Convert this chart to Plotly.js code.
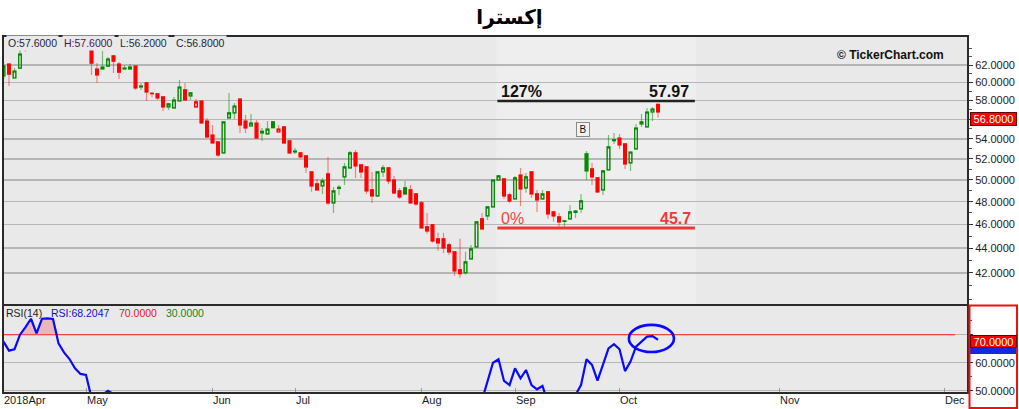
<!DOCTYPE html>
<html><head><meta charset="utf-8">
<script src="https://cdn.plot.ly/plotly-3.0.1.min.js"></script>
<style>html,body{margin:0;padding:0;background:#fff;}#chart{width:1019px;height:409px;}</style>
</head><body><div id="chart"></div>
<script>
// trading-day index (0 = 1 May 2018)
const candleIdx = [-15,-14,-13,-12,-11,-10,-9,-8,-7,-6,-5,-4,-3,-2,-1,0,
 1,2,3,4,5,6,7,8,9,10,11,12,13,14,15,16,17,18,19,20,21,22,23,24,25,26,27,28,29,30,
 31,32,33,34,35,36,37,38,39,40,41,42,43,44,45,46,47,48,49,50,51,52,53,54,55,56,57,58,59,60,
 61,62,63,64,65,66,67,68,69,70,71,72,73,74,75,76,77,78,79,80,81,82,83,84,85,86,87,88,89,90,
 91,92,93,94,95,96,97,98,99,100,101,102,103,104];
const opens = [60.74,62.12,60.51,61.65,65.50,66.00,67.20,66.60,68.20,69.20,69.40,67.60,66.60,66.10,65.70,65.90,
 63.77,61.54,61.54,61.88,63.06,62.12,61.54,61.54,61.88,59.50,59.95,58.80,58.73,58.40,57.32,57.21,57.96,59.17,58.51,57.32,57.96,55.83,54.38,53.68,52.59,56.15,56.68,58.18,55.83,55.31,
 55.62,54.60,54.49,55.73,54.69,55.21,53.78,52.70,52.59,52.29,50.75,49.62,49.44,50.56,47.89,49.20,50.28,51.13,52.59,51.42,51.23,49.07,48.52,50.75,51.13,49.99,48.98,49.25,49.07,48.70,
 47.89,45.79,45.96,44.78,44.78,44.27,43.70,42.25,42.02,43.13,44.11,46.48,46.74,47.53,49.99,50.09,48.61,48.25,50.46,49.25,50.75,48.70,48.25,48.89,47.09,46.65,46.25,46.48,47.05,47.35,
 52.49,51.04,50.18,49.07,50.94,53.80,54.08,53.48,51.61,52.98,55.52,55.21,56.78,57.60];
const highs = [62.35,62.12,61.65,63.77,66.60,68.00,67.60,68.60,69.60,70.20,69.80,68.00,67.00,66.40,66.20,66.40,
 63.77,62.23,63.65,62.94,63.06,62.35,62.00,62.12,61.88,59.95,59.95,58.95,58.84,58.40,57.75,58.40,60.28,59.95,58.84,58.18,57.96,56.15,55.41,53.68,55.73,58.84,57.75,58.18,56.46,56.57,
 55.93,55.10,55.83,55.83,55.41,55.21,53.78,53.08,52.68,52.29,50.75,50.09,50.18,52.19,49.34,49.53,51.61,52.78,52.88,51.42,51.23,50.75,50.75,51.42,51.13,50.37,49.25,49.90,49.53,48.70,
 48.07,47.00,45.96,45.28,45.28,44.44,43.70,44.78,43.70,44.27,46.22,47.00,47.53,49.99,50.37,50.09,48.80,50.37,51.13,50.66,50.75,49.07,49.07,48.89,47.09,47.00,46.39,47.71,47.26,48.70,
 52.78,51.61,50.18,50.85,54.38,54.59,54.49,53.48,52.68,55.52,56.57,57.21,57.32,57.60];
const lows = [60.28,59.61,60.51,61.65,63.60,65.60,65.80,66.20,67.80,68.40,67.20,66.20,65.80,65.50,65.50,65.60,
 60.85,59.95,61.54,61.77,61.08,60.40,61.54,61.54,59.17,59.17,57.96,58.40,58.07,56.89,56.99,57.21,57.96,58.07,58.07,57.32,55.62,54.08,53.58,52.19,52.59,56.15,56.04,54.59,54.59,55.31,
 54.08,53.78,54.38,55.10,54.69,53.58,52.49,52.49,52.09,50.66,48.89,49.07,48.70,47.71,47.00,48.61,49.53,51.13,50.18,50.18,48.70,47.89,48.43,50.28,49.62,48.70,48.25,48.70,47.89,47.62,
 45.71,45.20,44.44,43.78,43.61,43.45,41.78,41.63,41.86,43.13,44.11,45.62,46.39,47.53,49.99,48.25,47.89,48.25,47.62,48.80,48.34,47.09,48.25,46.48,46.22,45.79,45.79,46.48,46.56,47.00,
 49.99,49.53,48.80,48.61,50.94,53.48,52.98,51.04,50.85,52.98,55.21,55.21,55.83,56.20];
const closes = [61.88,60.96,61.31,63.29,66.20,67.40,66.40,68.20,69.20,69.60,67.60,66.60,66.10,65.70,65.90,65.80,
 62.23,60.85,61.77,62.70,62.46,61.19,61.65,61.77,59.39,59.60,58.95,58.75,58.29,57.32,57.64,58.07,59.50,58.07,58.84,57.86,55.62,54.18,53.58,52.39,55.73,56.68,57.42,55.41,55.10,55.62,
 54.08,54.75,55.00,55.15,55.00,53.58,52.59,52.78,52.19,51.23,49.44,49.07,49.90,47.89,48.98,49.30,51.23,52.59,51.32,50.75,48.98,48.52,50.75,51.13,49.90,48.80,48.43,48.70,47.89,47.80,
 45.71,45.45,44.61,44.44,44.02,43.70,42.17,41.94,42.89,43.94,46.22,45.62,47.53,49.99,50.37,48.52,48.07,50.18,49.16,50.28,48.70,48.16,48.70,46.91,46.74,46.22,46.30,47.09,47.15,48.07,
 50.85,50.28,48.89,50.85,53.18,53.90,53.38,51.52,52.68,55.10,55.73,56.78,57.10,56.80];
const rsiIdx = candleIdx;
const rsi = [67.5,64.3,64.8,70.0,72.7,75.7,70.5,75.7,75.8,75.6,66.9,63.7,61.3,58.0,56.0,55.6,
 47.5,45.5,48.6,50.0,48.8,46.5,47.2,47.6,42.0,42.5,40.5,40.0,39.2,37.5,38.5,40.0,43.5,41.5,42.5,41.5,37.5,35.0,34.0,32.5,39.0,40.5,42.0,37.5,36.5,37.5,
 35.0,36.0,37.0,37.2,37.0,34.5,32.5,33.0,32.5,31.0,29.0,28.5,30.5,27.0,30.0,31.0,35.5,39.5,37.5,36.0,32.5,31.5,36.5,37.5,35.5,33.5,32.5,33.5,31.5,30.5,
 27.5,27.0,25.5,25.0,24.5,24.0,22.0,21.5,26.0,30.5,40.0,46.5,53.5,60.0,61.2,53.5,52.0,58.0,54.4,57.4,52.0,50.5,51.7,45.5,44.5,43.5,44.0,46.0,48.5,52.0,
 61.2,59.2,53.6,59.2,65.1,66.6,64.8,57.0,60.4,65.7,67.5,69.3,69.5,68.2047];
const RSI_OB = 70, RSI_OS = 30;
const fibHigh = 57.97, fibLow = 45.7;
const fibHighLabel = '127%', fibLowLabel = '0%';
const monthTickIdx = [0, 23, 38, 61, 78, 97, 126, 156];
const monthTickText = ['May','Jun','Jul','Aug','Sep','Oct','Nov','Dec'];
const firstMonthLabel = '2018Apr';
const priceTicks = [42,44,46,48,50,52,54,56,58,60,62];
const priceMinorTicks = [40,41,43,45,47,49,51,53,55,57,59,61,63,64];
const rsiTicks = [50,60,70];
const rsiMinorTicks = [55,65,75];
const markerB = {idx: 90.45, price: 54.9, text: 'B'};

// ---- layout geometry (pixels of the 1019x409 canvas)
const L = 3, R = 968, T = 37, B = 393;
const PX = x => (x - L) / (R - L);
const PY = y => (B - y) / (B - T);
const X_RANGE = [-15.09, 160.36];
const PRICE_RANGE = [Math.log10(39.63), Math.log10(65.34)];
const RSI_RANGE = [49.18, 80.25];
const FIB_X0 = 74.8, FIB_X1 = 110.7;
const PLOT_BG = '#e9e9e9';

const n = candleIdx.length;
const last = n - 1;
const green = [], hollow = [];
for (let i = 0; i < n; i++) {
  const prev = i > 0 ? closes[i-1] : opens[i];
  green.push(closes[i] >= prev);
  hollow.push(closes[i] > opens[i]);
}
const GREEN = '#008a00', RED = '#ff0000';
const GREEN_L = 'rgba(0,140,0,0.5)', RED_L = 'rgba(255,0,0,0.45)';
const NONE = 'rgba(0,0,0,0)';

function candleTrace(sel, lineColor, fill, bodyOnly) {
  const o = sel.map(i => opens[i]), c = sel.map(i => closes[i]);
  const h = bodyOnly ? sel.map(i => Math.max(opens[i], closes[i])) : sel.map(i => highs[i]);
  const l = bodyOnly ? sel.map(i => Math.min(opens[i], closes[i])) : sel.map(i => lows[i]);
  const style = {line: {color: lineColor, width: 1.2}, fillcolor: fill};
  return {type: 'candlestick', x: sel.map(i => candleIdx[i]), open: o, high: h, low: l, close: c,
    xaxis: 'x', yaxis: 'y', increasing: style, decreasing: style, whiskerwidth: 0,
    hoverinfo: 'skip', showlegend: false};
}
const all = candleIdx.map((_, i) => i);
const traces = [];
traces.push(candleTrace(all.filter(i => green[i]), GREEN_L, NONE, false));
traces.push(candleTrace(all.filter(i => !green[i]), RED_L, NONE, false));
traces.push(candleTrace(all.filter(i => green[i] && hollow[i]), GREEN, NONE, true));
traces.push(candleTrace(all.filter(i => green[i] && !hollow[i]), GREEN, GREEN, true));
traces.push(candleTrace(all.filter(i => !green[i] && hollow[i]), RED, NONE, true));
traces.push(candleTrace(all.filter(i => !green[i] && !hollow[i]), RED, RED, true));

// fibonacci lines
traces.push({type:'scatter', mode:'lines', x:[FIB_X0, FIB_X1], y:[fibHigh, fibHigh], xaxis:'x', yaxis:'y',
  line:{color:'#222', width:2.5}, hoverinfo:'skip', showlegend:false});
traces.push({type:'scatter', mode:'lines', x:[FIB_X0, FIB_X1], y:[fibLow, fibLow], xaxis:'x', yaxis:'y',
  line:{color:'#f03434', width:3}, hoverinfo:'skip', showlegend:false});

// RSI panel
traces.push({type:'scatter', mode:'lines', x:[X_RANGE[0], 158], y:[RSI_OB, RSI_OB], xaxis:'x', yaxis:'y2',
  line:{color:'#f04040', width:1.2}, hoverinfo:'skip', showlegend:false});
traces.push({type:'scatter', mode:'lines', x:rsiIdx, y:rsi.map(() => RSI_OB), xaxis:'x', yaxis:'y2',
  line:{width:0, color:NONE}, hoverinfo:'skip', showlegend:false});
traces.push({type:'scatter', mode:'lines', x:rsiIdx, y:rsi.map(v => Math.max(v, RSI_OB)), xaxis:'x', yaxis:'y2',
  fill:'tonexty', fillcolor:'rgba(230,110,110,0.4)', line:{width:0, color:NONE}, hoverinfo:'skip', showlegend:false});
traces.push({type:'scatter', mode:'lines', x:rsiIdx, y:rsi, xaxis:'x', yaxis:'y2',
  line:{color:'#0a0aff', width:2.2}, hoverinfo:'skip', showlegend:false});

const tickFont = {family:'Liberation Sans, Arial, sans-serif', size:11, color:'#1c1c1c'};
const small = (c) => ({family:'Liberation Sans, Arial, sans-serif', size:10.5, color:c});

const annotations = [];
// OHLC header
[['O:', opens[last], 7, '#1e1e3c'], ['H:', highs[last], 63, '#4a1450'], ['L:', lows[last], 119, '#1e2a48'], ['C:', closes[last], 175, '#1e1e30']]
  .forEach(([k, v, x, c]) => annotations.push({xref:'paper', yref:'paper', x:PX(x - 1), y:PY(43), xanchor:'left', yanchor:'middle',
    text:k + v.toFixed(4), showarrow:false, font:small(c), bgcolor:PLOT_BG, borderpad:1}));
// RSI legend
[['RSI(14)', 6, '#222'], ['RSI:' + rsi[last].toFixed(4), 51, '#1010d0'], [RSI_OB.toFixed(4), 119, '#e02020'], [RSI_OS.toFixed(4), 166, '#208020']]
  .forEach(([t, x, c]) => annotations.push({xref:'paper', yref:'paper', x:PX(x - 1), y:PY(312.5), xanchor:'left', yanchor:'middle',
    text:t, showarrow:false, font:small(c), borderpad:0}));
// copyright
annotations.push({xref:'paper', yref:'paper', x:PX(835), y:PY(55), xanchor:'left', yanchor:'middle', showarrow:false,
  text:'© TickerChart.com', font:{family:'Liberation Sans, Arial, sans-serif', size:12, color:'#111', weight:'bold'}});
// fib labels
const fibFont = (c, w) => ({family:'Liberation Sans, Arial, sans-serif', size:16, color:c, weight:w});
annotations.push({xref:'x', yref:'y', x:75.3, y:Math.log10(fibHigh), xanchor:'left', yanchor:'bottom', showarrow:false, borderpad:0,
  text:fibHighLabel, font:fibFont('#111', 'bold')});
annotations.push({xref:'x', yref:'y', x:109.8, y:Math.log10(fibHigh), xanchor:'right', yanchor:'bottom', showarrow:false, borderpad:0,
  text:fibHigh.toFixed(2), font:fibFont('#111', 'bold')});
annotations.push({xref:'x', yref:'y', x:75.3, y:Math.log10(fibLow), xanchor:'left', yanchor:'bottom', showarrow:false, borderpad:0,
  text:fibLowLabel, font:fibFont('#f04646', 'normal')});
annotations.push({xref:'x', yref:'y', x:110.2, y:Math.log10(fibLow), xanchor:'right', yanchor:'bottom', showarrow:false, borderpad:0,
  text:String(fibLow), font:fibFont('#f03a3a', 'bold')});
// B marker
annotations.push({xref:'x', yref:'y', x:markerB.idx, y:Math.log10(markerB.price), xanchor:'center', yanchor:'middle', showarrow:false,
  text:markerB.text, bgcolor:'#f2f2f2', bordercolor:'#8a8a8a', borderwidth:1, borderpad:1, width:10, height:11,
  font:{family:'Liberation Sans, Arial, sans-serif', size:10, color:'#111'}});
// current price label & RSI level label
annotations.push({xref:'paper', yref:'paper', x:PX(969.5), y:PY(119), xanchor:'left', yanchor:'middle', showarrow:false,
  text:closes[last].toFixed(4), bgcolor:'#ff0000', bordercolor:'#6a0000', borderwidth:1, borderpad:0, width:45, height:12,
  font:{family:'Liberation Sans, Arial, sans-serif', size:11, color:'#fff'}});
annotations.push({xref:'paper', yref:'paper', x:PX(969.5), y:PY(341), xanchor:'left', yanchor:'middle', showarrow:false,
  text:RSI_OB.toFixed(4), bgcolor:'#ff0000', bordercolor:'#6a0000', borderwidth:1, borderpad:0, width:45, height:11,
  font:{family:'Liberation Sans, Arial, sans-serif', size:11, color:'#fff'}});
// month labels
annotations.push({xref:'paper', yref:'paper', x:PX(3), y:PY(400), xanchor:'left', yanchor:'middle', showarrow:false,
  text:firstMonthLabel, font:tickFont, borderpad:0});
monthTickIdx.forEach((v, k) => annotations.push({xref:'x', yref:'paper', x:v - 0.05, y:PY(400), xanchor:'left', yanchor:'middle',
  showarrow:false, text:monthTickText[k], font:tickFont, borderpad:0}));

const shapes = [
  {type:'rect', xref:'x', yref:'y domain', x0:FIB_X0 - 0.2, x1:FIB_X1 + 0.2, y0:0, y1:1, fillcolor:'rgba(255,255,255,0.22)', line:{width:0}, layer:'below'},
  {type:'circle', xref:'x', yref:'y2', x0:98.7, x1:106.9, y0:63.8, y1:73.5, line:{color:'#0a0aff', width:2.6}},
  // frames
  {type:'rect', xref:'paper', yref:'paper', x0:PX(3), x1:PX(968), y0:PY(393), y1:PY(36), line:{color:'#2a2a2a', width:2}},
  {type:'line', xref:'paper', yref:'paper', x0:PX(3), x1:PX(968), y0:PY(305), y1:PY(305), line:{color:'#2a2a2a', width:2}},
  {type:'rect', xref:'paper', yref:'paper', x0:PX(969.5), x1:PX(1016.5), y0:PY(354), y1:PY(347), fillcolor:'#1428e0', line:{width:0}},
  {type:'rect', xref:'paper', yref:'paper', x0:PX(969.5), x1:PX(1017), y0:PY(408), y1:PY(305.5), line:{color:'#ee1111', width:2}}
];

const layout = {
  width:1019, height:409,
  margin:{l:L, r:1019 - R, t:T, b:409 - B, pad:0},
  paper_bgcolor:'#ffffff', plot_bgcolor:PLOT_BG,
  showlegend:false,
  title:{text:'إكسترا', x:0.5, xref:'container', xanchor:'center', y:1 - 17/409, yref:'container', yanchor:'middle',
    font:{family:'DejaVu Sans, sans-serif', size:20, color:'#000', weight:'bold'}},
  xaxis:{range:X_RANGE, anchor:'y2', showgrid:false, zeroline:false, showline:false,
    tickmode:'array', tickvals:monthTickIdx, ticktext:monthTickText, showticklabels:false,
    ticks:'inside', ticklen:5, tickcolor:'#9a9a9a', tickwidth:1,
    rangeslider:{visible:false}, fixedrange:true},
  yaxis:{type:'log', domain:[PY(304), 1], range:PRICE_RANGE, side:'right', anchor:'x',
    tickmode:'array', tickvals:priceTicks,
    ticktext:priceTicks.map(v => Math.abs(v - closes[last]) < 1.2 ? '' : v.toFixed(4)),
    ticks:'outside', ticklen:4, tickcolor:'#333', tickfont:tickFont,
    showgrid:true, gridcolor:'#b6b6b6', gridwidth:1.5, zeroline:false, showline:false,
    minor:{tickmode:'array', tickvals:priceMinorTicks, ticks:'outside', ticklen:3, tickcolor:'#555', showgrid:false},
    fixedrange:true},
  yaxis2:{domain:[0, PY(306)], range:RSI_RANGE, side:'right', anchor:'x',
    tickmode:'array', tickvals:rsiTicks, ticktext:rsiTicks.map(v => v === RSI_OB ? '' : v.toFixed(4)),
    ticks:'outside', ticklen:4, tickcolor:'#333', tickfont:tickFont,
    showgrid:true, gridcolor:'#b6b6b6', gridwidth:1.2, zeroline:false, showline:false,
    minor:{tickmode:'array', tickvals:rsiMinorTicks, ticks:'outside', ticklen:3, tickcolor:'#555', showgrid:false},
    fixedrange:true},
  annotations:annotations,
  shapes:shapes
};

Plotly.newPlot('chart', traces, layout, {displayModeBar:false, staticPlot:true});
</script>
</body></html>
